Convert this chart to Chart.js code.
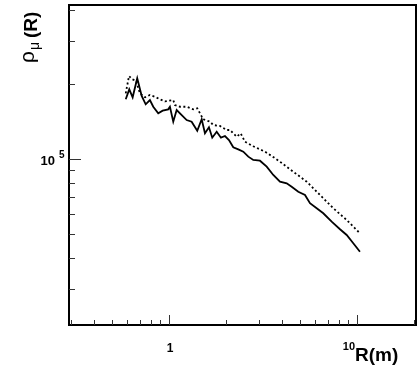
<!DOCTYPE html>
<html>
<head>
<meta charset="utf-8">
<script src="https://cdn.jsdelivr.net/npm/chart.js@4/dist/chart.umd.min.js"></script>
<style>
html,body{margin:0;padding:0;background:#fff;}
#wrap{width:417px;height:372px;position:relative;}
</style>
</head>
<body>
<div id="wrap"><canvas id="c" width="417" height="372"></canvas></div>
<script>
// ---- data (R in m, rho in arbitrary units) ----
const solidR = [0.589,0.615,0.641,0.678,0.716,0.752,0.792,0.825,0.877,0.926,0.991,1.012,1.054,1.099,1.169,1.242,1.320,1.414,1.493,1.554,1.632,1.699,1.794,1.890,1.986,2.085,2.198,2.337,2.485,2.642,2.808,3.048,3.310,3.588,3.894,4.228,4.494,4.873,5.290,5.623,6.105,6.618,7.335,8.122,8.815,9.557,10.37];
const solidRho = [174100,191000,177400,211600,179500,166200,172900,162500,152900,156600,158600,162500,141400,157600,150400,143600,141400,130000,144600,127000,134200,121900,128800,121900,123800,119300,111500,109400,107000,102200,99080,98430,93110,86210,81000,79800,77300,73800,71600,66300,63300,60400,55870,52060,49380,45710,42280];
const dotR = [0.589,0.613,0.638,0.668,0.701,0.746,0.792,0.842,0.896,0.952,1.054,1.076,1.144,1.242,1.347,1.414,1.522,1.653,1.720,1.867,2.027,2.111,2.292,2.407,2.537,2.808,3.241,3.561,3.894,4.583,5.402,6.357,7.480,8.815,10.37];
const dotRho = [184000,216100,209600,206900,184000,177400,181200,178300,174100,170800,172900,165100,162500,162500,158600,160100,144600,141400,137100,135900,130900,130900,123000,126900,117400,112500,107000,102200,97520,88880,81000,71600,63300,56750,50170];
// ---- axis ticks ----
const xMajorTicks = [1, 10];
const xMajorLabels = ["1", "10"];
const xMinorTicks = [0.3,0.4,0.5,0.6,0.7,0.8,0.9,2,3,4,5,6,7,8,9,20];
const yMajorTicks = [1e5];
const yMinorTicks = [3e4,4e4,5e4,6e4,7e4,8e4,9e4,2e5,3e5,4e5];
const xRange = [0.294, 20.6];
const yRange = [21400, 418000];

const toPts = (xs, ys) => xs.map((x, i) => ({x: x, y: ys[i]}));

const framePlugin = {
  id: 'frame',
  afterDraw(chart) {
    const ctx = chart.ctx, a = chart.chartArea;
    const xs = chart.scales.x, ys = chart.scales.y;
    ctx.save();
    ctx.strokeStyle = '#000';
    ctx.lineWidth = 2;
    ctx.strokeRect(a.left, a.top, a.right - a.left, a.bottom - a.top);
    ctx.lineWidth = 1;
    ctx.strokeStyle = '#333';
    ctx.beginPath();
    xMinorTicks.forEach(v => { const p = Math.round(xs.getPixelForValue(v)) + 0.5; ctx.moveTo(p, a.bottom); ctx.lineTo(p, a.bottom - 5); });
    xMajorTicks.forEach(v => { const p = Math.round(xs.getPixelForValue(v)) + 0.5; ctx.moveTo(p, a.bottom); ctx.lineTo(p, a.bottom - 10); });
    yMinorTicks.forEach(v => { const p = Math.round(ys.getPixelForValue(v)) + 0.5; ctx.moveTo(a.left, p); ctx.lineTo(a.left + 6, p); });
    yMajorTicks.forEach(v => { const p = Math.round(ys.getPixelForValue(v)) + 0.5; ctx.moveTo(a.left, p); ctx.lineTo(a.left + 12, p); });
    ctx.stroke();

    ctx.fillStyle = '#000';
    ctx.textAlign = 'center';
    ctx.textBaseline = 'alphabetic';
    xMajorTicks.forEach((v, i) => {
      const p = xs.getPixelForValue(v);
      if (v === 10) { ctx.font = 'bold 11px "Liberation Sans", Arial, sans-serif'; ctx.fillText(xMajorLabels[i], p - 8, 350); }
      else { ctx.font = 'bold 12px "Liberation Sans", Arial, sans-serif'; ctx.fillText(xMajorLabels[i], p + 1, 352); }
    });
    // y label 10^5
    const py = ys.getPixelForValue(1e5);
    ctx.textAlign = 'right';
    ctx.font = 'bold 13px "Liberation Sans", Arial, sans-serif';
    ctx.fillText('10', 55, py + 6);
    ctx.textAlign = 'left';
    ctx.font = 'bold 10px "Liberation Sans", Arial, sans-serif';
    ctx.fillText('5', 59, py - 1);

    // x axis title
    ctx.font = 'bold 19px "Liberation Sans", Arial, sans-serif';
    ctx.textAlign = 'left';
    ctx.fillText('R(m)', 355, 361);

    // y axis title rotated
    ctx.rotate(-Math.PI / 2);
    ctx.textAlign = 'left';
    ctx.font = '21px "Liberation Sans", Arial, sans-serif';
    ctx.fillText('ρ', -63, 34);
    ctx.font = '14px "Liberation Sans", Arial, sans-serif';
    ctx.fillText('μ', -50, 39);
    ctx.font = 'bold 19px "Liberation Sans", Arial, sans-serif';
    ctx.fillText('(R)', -38, 37);
    ctx.restore();
  }
};

new Chart(document.getElementById('c'), {
  type: 'line',
  data: {
    datasets: [
      { label: 'solid', data: toPts(solidR, solidRho), borderColor: '#000', borderWidth: 1.8, pointRadius: 0, tension: 0, fill: false },
      { label: 'dotted', data: toPts(dotR, dotRho), borderColor: '#000', borderWidth: 1.8, borderDash: [2, 2.5], pointRadius: 0, tension: 0, fill: false }
    ]
  },
  options: {
    responsive: false,
    animation: false,
    devicePixelRatio: 1,
    layout: { padding: { left: 69, top: 5, right: 1, bottom: 47 } },
    plugins: { legend: { display: false }, tooltip: { enabled: false } },
    scales: {
      x: { type: 'logarithmic', min: xRange[0], max: xRange[1], display: false },
      y: { type: 'logarithmic', min: yRange[0], max: yRange[1], display: false }
    }
  },
  plugins: [framePlugin]
});
</script>
</body>
</html>
